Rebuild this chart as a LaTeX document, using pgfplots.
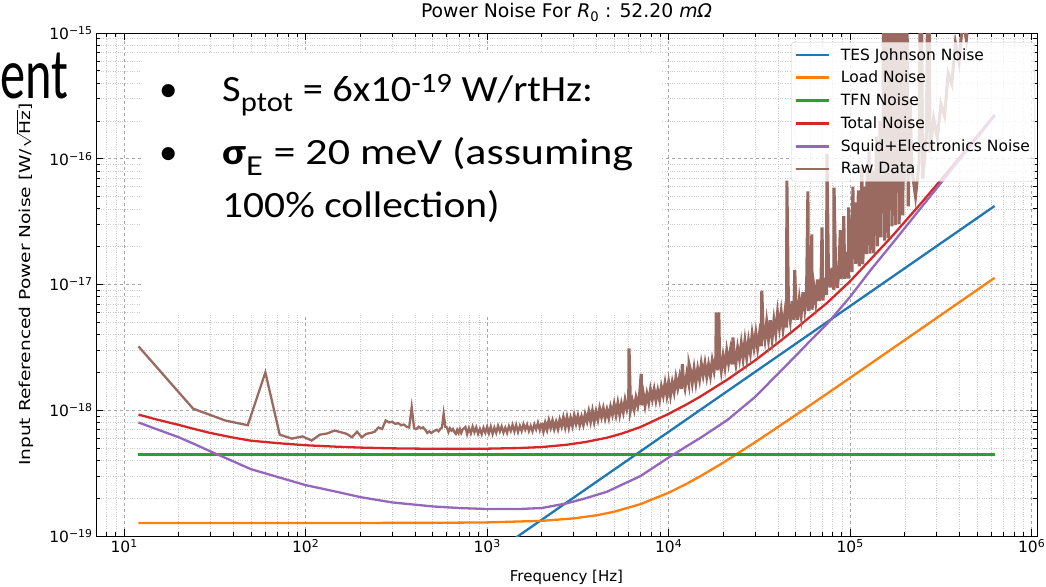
\documentclass[border=0pt]{standalone}
\usepackage{fontspec}
\setmainfont{DejaVu Sans}
\newfontfamily\cali{Carlito}
\usepackage{pgfplots}
\pgfplotsset{compat=1.18}
\definecolor{tabblue}{HTML}{1F77B4}
\definecolor{taborange}{HTML}{FF7F0E}
\definecolor{tabgreen}{HTML}{2CA02C}
\definecolor{tabred}{HTML}{D62728}
\definecolor{tabpurple}{HTML}{9467BD}
\definecolor{tabbrown}{HTML}{8C564B}
\begin{document}
\begin{tikzpicture}
\useasboundingbox (0pt,0pt) rectangle (1046pt,586pt);
\begin{axis}[
  at={(96pt,50pt)}, anchor=south west,
  scale only axis, width=941pt, height=503pt,
  xmode=log, ymode=log,
  xmin=7, xmax=1.07e6, ymin=1e-19, ymax=1e-15,
  xtick={10,100,1000,10000,100000,1000000},
  xticklabels={10\textsuperscript{1},10\textsuperscript{2},10\textsuperscript{3},10\textsuperscript{4},10\textsuperscript{5},10\textsuperscript{6}},
  ytick={1e-19,1e-18,1e-17,1e-16,1e-15},
  yticklabels={10\textsuperscript{−19},10\textsuperscript{−18},10\textsuperscript{−17},10\textsuperscript{−16},10\textsuperscript{−15}},
  minor xtick={7,8,9,20,30,40,50,60,70,80,90,200,300,400,500,600,700,800,900,2000,3000,4000,5000,6000,7000,8000,9000,20000,30000,40000,50000,60000,70000,80000,90000,200000,300000,400000,500000,600000,700000,800000,900000},
  minor ytick={2e-19,3e-19,4e-19,5e-19,6e-19,7e-19,8e-19,9e-19,2e-18,3e-18,4e-18,5e-18,6e-18,7e-18,8e-18,9e-18,2e-17,3e-17,4e-17,5e-17,6e-17,7e-17,8e-17,9e-17,2e-16,3e-16,4e-16,5e-16,6e-16,7e-16,8e-16,9e-16},
  tick align=inside, major tick length=7pt, minor tick length=4pt,
  tick style={black, line width=0.8pt},
  grid=both,
  major grid style={dashed, gray!70, line width=0.6pt},
  minor grid style={dotted, gray!40, line width=0.6pt},
  axis line style={line width=1pt},
  ticklabel style={font=\fontsize{15.5}{15.5}\selectfont},
  title={Power Noise For \textit{R}\textsubscript{0} : 52.20 \textit{mΩ}},
  title style={font=\fontsize{18.8}{18.8}\selectfont, at={(0.5,1)}, anchor=south, yshift=2pt},
  xlabel={Frequency [Hz]},
  xlabel style={font=\fontsize{15}{15}\selectfont, at={(axis description cs:0.5,0)}, anchor=center, yshift=-41pt},
  ylabel={Input Referenced Power Noise [W/$\sqrt{\mbox{Hz}}$]},
  ylabel style={font=\fontsize{15}{15}\selectfont, at={(axis description cs:-0.0755,0.5)}, anchor=center, xscale=1.24},
  legend style={at={(0.998,0.982)}, anchor=north east, draw=gray!40, fill=white, fill opacity=0.8, text opacity=1, rounded corners=3pt, font=\fontsize{15.5}{18}\selectfont, row sep=5.6pt, inner xsep=3pt, inner ysep=4pt, /tikz/every odd column/.append style={column sep=9pt}},
  legend cell align=left,
  legend image code/.code={\draw[#1, line width=2.6pt] (0pt,0pt) -- (33pt,0pt);},
]
\addplot[tabblue, line width=2.3pt] coordinates {(12,8.09e-22) (625000,4.214e-17)};
\addlegendentry{TES Johnson Noise}
\addplot[taborange, line width=2.3pt] coordinates {(12,1.27e-19) (100,1.27e-19) (500,1.273e-19) (1000,1.283e-19) (2000,1.321e-19) (3000,1.381e-19) (4000,1.462e-19) (5000,1.559e-19) (7000,1.794e-19) (10000,2.211e-19) (12500,2.594e-19) (15000,2.997e-19) (20000,3.836e-19) (30000,5.575e-19) (50000,9.137e-19) (70000,1.273e-18) (100000,1.814e-18) (200000,3.621e-18) (625000,1.131e-17)};
\addlegendentry{Load Noise}
\addplot[tabgreen, line width=2.3pt] coordinates {(12,4.44e-19) (625000,4.44e-19)};
\addlegendentry{TFN Noise}
\addplot[tabred, line width=2.3pt] coordinates {(12,9.24e-19) (15,8.47e-19) (20,7.65e-19) (25,7.03e-19) (30,6.59e-19) (40,6.06e-19) (50,5.73e-19) (70,5.48e-19) (100,5.27e-19) (150,5.13e-19) (200,5.05e-19) (300,4.98e-19) (500,4.94e-19) (700,4.93e-19) (1000,4.95e-19) (1500,5.01e-19) (2000,5.10e-19) (2750,5.32e-19) (3500,5.60e-19) (4571,6.05e-19) (5500,6.52e-19) (7000,7.36e-19) (10000,9.37e-19) (12500,1.11e-18) (15000,1.29e-18) (21000,1.749e-18) (30000,2.498e-18) (40000,3.437e-18) (50000,4.438e-18) (60000,5.52e-18) (74500,7.13e-18) (100000,1.063e-17) (130000,1.594e-17) (173000,2.484e-17) (250000,4.558e-17) (350000,8.08e-17) (450000,1.251e-16) (625000,2.235e-16)};
\addlegendentry{Total Noise}
\addplot[tabpurple, line width=2.3pt] coordinates {(12,8.0e-19) (15,7.1e-19) (20,6.1e-19) (25,5.3e-19) (30,4.7e-19) (40,3.92e-19) (50,3.4e-19) (70,2.95e-19) (100,2.54e-19) (150,2.24e-19) (200,2.04e-19) (300,1.85e-19) (500,1.72e-19) (700,1.67e-19) (1000,1.64e-19) (1500,1.64e-19) (2000,1.67e-19) (2750,1.82e-19) (3500,2.0e-19) (4571,2.25e-19) (5500,2.55e-19) (7000,3.0e-19) (10000,4.21e-19) (12500,5.15e-19) (15000,6.05e-19) (21000,8.34e-19) (30000,1.28e-18) (40000,1.95e-18) (50000,2.7e-18) (60000,3.55e-18) (74500,4.85e-18) (100000,8.0e-18) (130000,1.31e-17) (173000,2.17e-17) (250000,4.21e-17) (350000,7.7e-17) (450000,1.211e-16) (625000,2.192e-16)};
\addlegendentry{Squid+Electronics Noise}
\addplot[tabbrown!88!white, line width=2.3pt] coordinates {
(12,3.22e-18) (24,1.03e-18) (36,8.3e-19) (48,7.6e-19) (60,2.0e-18) (72,6.4e-19) (84,5.95e-19) (96,6.2e-19) (108,5.75e-19) (120,6.4e-19) (132,6.55e-19) (144,6.9e-19) (156,6.7e-19) (168,6.5e-19) (180,6.1e-19) (192,6.75e-19) (204,6.1e-19) (216,6.5e-19) (228,6.6e-19) (240,6.75e-19) (252,7.3e-19) (264,7.1e-19) (276,8.3e-19) (288,8.0e-19) (300,8.1e-19) (312,7.8e-19) (324,7.9e-19) (336,7.6e-19) (348,7.7e-19) (360,7.4e-19) (372,7.3e-19) (384,1.06e-18) (396,7.2e-19) (408,7.1e-19) (420,7.4e-19) (432,7.2e-19) (444,7.3e-19) (456,7.0e-19) (468,6.6e-19) (480,6.8e-19) (492,6.6e-19) (504,6.75e-19) (516,6.9e-19) (528,7.0e-19) (540,6.8e-19) (552,7.1e-19) (564,7.3e-19) (576,9.4e-19) (588,7.4e-19) (600,7.3e-19) (612,6.7e-19) (624,7.2e-19) (636,6.9e-19) (648,7.1e-19) (660,6.7e-19) (672,6.5e-19) (684,7.0e-19) (696,6.6e-19) (708,7.1e-19) (720,6.6e-19) (732,7.0e-19)
(759,7.36e-19) (776,6.46e-19) (794,7.21e-19) (813,6.55e-19) (832,7.41e-19) (851,6.68e-19) (871,7.31e-19) (891,6.50e-19) (912,7.11e-19) (933,6.46e-19) (955,7.26e-19) (977,6.64e-19) (1000,7.41e-19)
(1023,6.56e-19) (1047,7.40e-19) (1072,6.50e-19) (1096,7.28e-19) (1122,6.62e-19) (1148,7.52e-19) (1175,6.79e-19) (1202,7.45e-19) (1230,6.64e-19) (1259,7.28e-19) (1288,6.62e-19) (1318,7.46e-19) (1349,6.84e-19) (1380,7.66e-19) (1413,6.78e-19) (1445,7.64e-19) (1479,6.71e-19) (1514,7.52e-19) (1549,6.84e-19) (1585,7.76e-19) (1622,7.01e-19) (1660,7.70e-19) (1698,6.84e-19) (1738,7.52e-19) (1778,6.81e-19) (1820,7.73e-19) (1862,7.04e-19) (1905,7.96e-19) (1950,6.96e-19) (1995,7.94e-19)};
\addlegendentry{Raw Data}
\addplot[tabbrown!88!white, line width=3.1pt, forget plot] coordinates {
(1995,7.94e-19) (2042,6.90e-19) (2089,7.86e-19) (2138,7.08e-19) (2188,8.22e-19) (2239,7.33e-19) (2291,8.19e-19) (2344,7.17e-19) (2399,8.02e-19) (2455,7.18e-19) (2512,8.33e-19) (2570,7.51e-19) (2630,8.66e-19) (2692,7.45e-19) (2754,8.70e-19) (2818,7.40e-19) (2884,8.58e-19) (2951,7.61e-19) (3020,9.00e-19) (3090,7.90e-19) (3162,8.95e-19)
(3236,7.72e-19) (3311,8.80e-19) (3388,7.78e-19) (3467,9.22e-19) (3548,8.23e-19) (3631,9.68e-19) (3715,8.21e-19) (3802,9.78e-19) (3890,8.19e-19) (3981,9.68e-19) (4074,8.50e-19) (4169,1.027e-18) (4266,8.91e-19) (4365,1.027e-18) (4467,8.71e-19) (4571,1.004e-18) (4677,8.77e-19) (4786,1.056e-18) (4898,9.30e-19) (5012,1.112e-18)
(5129,9.30e-19) (5248,1.129e-18) (5370,9.31e-19) (5495,1.121e-18) (5623,9.74e-19) (5754,1.202e-18) (5888,1.031e-18) (6026,1.206e-18) (6050,3.1e-18) (6166,1.010e-18) (6310,1.183e-18) (6457,1.022e-18) (6607,1.255e-18) (6761,1.095e-18) (6918,1.333e-18) (7060,1.95e-18) (7079,1.095e-18)
(7244,1.354e-18) (7413,1.099e-18) (7586,1.345e-18) (7762,1.155e-18) (7943,1.452e-18) (8128,1.230e-18) (8318,1.459e-18) (8511,1.203e-18) (8710,1.430e-18) (8913,1.220e-18) (9120,1.527e-18) (9333,1.317e-18) (9550,1.631e-18) (9772,1.319e-18) (10000,1.658e-18)
(10233,1.325e-18) (10471,1.654e-18) (10715,1.405e-18) (10965,1.805e-18) (11220,1.510e-18) (11482,1.823e-18) (11749,1.481e-18) (11900,2.33e-18) (12023,1.791e-18) (12303,1.511e-18) (12589,1.933e-18) (12882,1.648e-18) (12950,2.33e-18) (13183,2.087e-18) (13490,1.658e-18) (13804,2.135e-18) (14125,1.667e-18) (14454,2.122e-18) (14791,1.772e-18) (15136,2.327e-18) (15488,1.912e-18) (15849,2.344e-18)
(16218,1.864e-18) (16596,2.287e-18) (16982,1.894e-18) (17378,2.471e-18) (17783,2.072e-18) (18197,2.672e-18) (18300,6.0e-18) (18621,2.074e-18) (18900,6.0e-18) (19055,2.723e-18) (19498,2.075e-18) (19953,2.691e-18) (20417,2.207e-18) (20893,2.958e-18) (21380,2.384e-18) (21878,2.966e-18) (22387,2.310e-18) (22600,3.8e-18) (22909,2.880e-18) (23442,2.345e-18) (23988,3.122e-18) (24547,2.578e-18) (25119,3.388e-18)
(25704,2.600e-18) (26303,3.526e-18) (26915,2.646e-18) (27542,3.545e-18) (28184,2.877e-18) (28840,4.009e-18) (29512,3.184e-18) (30200,4.095e-18) (30903,3.127e-18) (31623,4.034e-18) (32359,3.229e-18) (32600,8.95e-18) (33113,4.494e-18) (33884,3.650e-18) (34674,5.015e-18) (35481,3.703e-18) (36308,5.207e-18) (37154,3.752e-18) (38019,5.202e-18) (38905,4.096e-18) (39811,5.934e-18)
(40738,4.560e-18) (41687,6.023e-18) (42658,4.429e-18) (43652,5.867e-18) (44668,4.553e-18) (44800,6.7e-17) (45709,6.565e-18) (46774,5.178e-18) (47863,7.357e-18) (48978,5.219e-18) (49500,1.3e-17) (50119,7.603e-18) (51286,5.248e-18) (52481,7.537e-18) (53703,5.737e-18) (54954,8.670e-18) (56234,6.423e-18) (57544,8.766e-18) (58500,5.5e-17) (58884,6.165e-18) (60256,8.457e-18) (61500,2.5e-17) (61660,6.310e-18) (63096,9.550e-18)
(64565,7.294e-18) (66069,1.094e-17) (67608,7.382e-18) (69183,1.142e-17) (70000,2.85e-17) (70795,7.457e-18) (72444,1.134e-17) (74131,8.294e-18) (74500,1.1e-16) (75858,1.337e-17) (77625,9.484e-18) (79433,1.358e-17) (81283,9.09e-18) (81500,5.9e-17) (83176,1.309e-17) (85114,9.386e-18) (87096,1.510e-17) (88200,2.7e-17) (89125,1.105e-17) (91201,1.746e-17) (92200,3.5e-17) (93325,1.111e-17) (95499,1.816e-17) (97724,1.116e-17) (98000,4.1e-17) (100000,1.786e-17)
(102329,1.255e-17) (103500,6e-17) (104713,2.153e-17) (106000,4.5e-17) (107152,1.462e-17) (109648,2.194e-17) (111000,5.6e-17) (112202,1.396e-17) (114815,2.106e-17) (116000,9e-17) (117490,1.450e-17) (119000,6e-17) (120226,2.475e-17) (123027,1.746e-17) (124000,8e-17) (125893,2.917e-17) (127000,1.2e-16) (128825,1.761e-17) (130300,9e-17) (131826,3.053e-17) (134896,1.772e-17) (136000,8e-17) (138038,3.001e-17) (139500,1.5e-16) (141254,2.017e-17) (143000,1.1e-16) (144544,3.664e-17) (146000,2e-16) (147911,2.371e-17) (149500,2e-16) (151356,3.710e-17) (153000,1e-14) (154882,2.236e-17) (156500,3e-16) (158489,3.516e-17) (161000,1e-14)
(162181,2.339e-17) (164000,1e-14) (165959,4.227e-17) (168000,2.5e-16) (169824,2.904e-17) (172000,1e-14) (173780,5.082e-17) (176000,4e-16) (177828,2.972e-17) (180000,1e-14) (181970,5.370e-17) (184000,1e-14) (186209,3.041e-17) (188500,5e-16) (190546,5.321e-17) (193000,1e-14) (194984,3.540e-17) (197000,4e-16) (199526,6.607e-17) (204000,1e-14) (208930,4.19e-17) (214000,3e-16) (218776,8.20e-17) (229087,5.04e-17) (239883,9.55e-17) (245000,1e-14) (251189,6.89e-17) (263027,1.50e-16) (270000,1e-14) (275423,1.127e-16) (288403,2.09e-16) (301995,1.47e-16) (316228,2.73e-16) (331131,2.19e-16) (346737,4.76e-16) (363078,3.94e-16) (380189,8.32e-16) (398107,5.86e-16) (416869,1.29e-15) (436516,8.87e-16) (457088,1.89e-15) (478630,1.53e-15) (501187,3.47e-15) (524807,2.4e-15) (549541,4.57e-15) (575440,3.47e-15) (602560,6.6e-15) (625000,6.0e-15)};
\end{axis}
\fill[white] (142pt,271pt) rectangle (662pt,533pt);
\node[anchor=base west, inner sep=0pt, font=\cali\fontsize{37}{44}\selectfont] at (159pt,484pt) {•};
\node[anchor=base west, inner sep=0pt, font=\cali\fontsize{37}{44}\selectfont] at (159pt,421pt) {•};
\node[anchor=base west, inner sep=0pt, xscale=1.095, font=\cali\fontsize{37}{44}\selectfont] at (222pt,484pt) {S\textsubscript{\fontsize{28}{28}\selectfont ptot} = 6x10\textsuperscript{\fontsize{28}{28}\selectfont -19} W/rtHz:};
\node[anchor=base west, inner sep=0pt, xscale=1.19, font=\cali\fontsize{37}{44}\selectfont] at (222pt,421pt) {\textbf{σ}\textsubscript{\fontsize{29}{29}\selectfont E} = 20 meV (assuming};
\node[anchor=base west, inner sep=0pt, xscale=1.12, font=\cali\fontsize{37}{44}\selectfont] at (222pt,368pt) {100\% collection)};
\node[anchor=base west, inner sep=0pt, xscale=0.7, font=\cali\fontsize{72}{72}\selectfont] at (0pt,487pt) {ent};
\end{tikzpicture}
\end{document}
